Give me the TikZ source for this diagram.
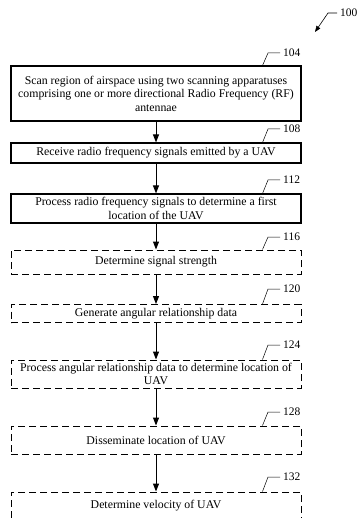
\documentclass[tikz,border=0pt]{standalone}
\usepackage{fontspec}
\setmainfont{Liberation Serif}
\usetikzlibrary{arrows.meta}

\tikzset{
  stepbox/.style={draw, line width=1.1pt, minimum width=290pt, align=center,
    inner sep=2pt, font=\fontsize{11.8}{13.5}\selectfont},
  optbox/.style={stepbox, line width=1pt, dash pattern=on 7pt off 4pt},
  reflabel/.style={anchor=west, inner sep=0pt, font=\fontsize{11.5}{13}\selectfont},
  flow/.style={-{Triangle[length=8pt,width=6pt]}, line width=1pt},
}

\begin{document}
\begin{tikzpicture}[x=1pt,y=-1pt]
    \useasboundingbox (0,0) rectangle (360,518);
    % steps of the method
    \node[stepbox, minimum height=55pt] (b104) at (156,93.5)
        {Scan region of airspace using two scanning apparatuses\\
         comprising one or more directional Radio Frequency (RF)\\antennae};
    \node[stepbox, minimum height=20pt] (b108) at (156,153)
        {Receive radio frequency signals emitted by a UAV};
    \node[stepbox, minimum height=29pt] (b112) at (156,208.5)
        {Process radio frequency signals to determine a first\\location of the UAV};
    \node[optbox, minimum height=24pt] (b116) at (156,262) {Determine signal strength};
    \node[optbox, minimum height=18pt] (b120) at (156,313.5) {Generate angular relationship data};
    \node[optbox, minimum height=28pt] (b124) at (156,374)
        {Process angular relationship data to determine location of\\UAV};
    \node[optbox, minimum height=28pt] (b128) at (156,440) {Disseminate location of UAV};
    \node[optbox, minimum height=28pt] (b132) at (156,506) {Determine velocity of UAV};
    % arrows
    \draw[flow] (b104) -- (b108);
    \draw[flow] (b108) -- (b112);
    \draw[flow] (b112) -- (b116);
    \draw[flow] (b116) -- (b120);
    \draw[flow] (b120) -- (b124);
    \draw[flow] (b124) -- (b128);
    \draw[flow] (b128) -- (b132);
    % reference numerals
    \node[reflabel] (l104) at (283,53) {104};
    \node[reflabel] (l108) at (283,129) {108};
    \node[reflabel] (l112) at (283,180) {112};
    \node[reflabel] (l116) at (283,237) {116};
    \node[reflabel] (l120) at (283,289) {120};
    \node[reflabel] (l124) at (283,345) {124};
    \node[reflabel] (l128) at (283,412) {128};
    \node[reflabel] (l132) at (283,477) {132};
    \foreach \n in {104,108,112,116,120,124,128,132}
        \draw[line width=0.5pt] (l\n.west) ++(-3,0) -- ++(-12,0) -- ([xshift=-39pt]b\n.north east);
    \node[reflabel] (l100) at (340,13) {100};
    \coordinate (fig) at (315,32);
    \draw[line width=0.6pt, -{Triangle[length=6pt,width=4.5pt]}] (l100.west) ++(-3,0) -- ++(-9,0) -- (fig);
\end{tikzpicture}
\end{document}
